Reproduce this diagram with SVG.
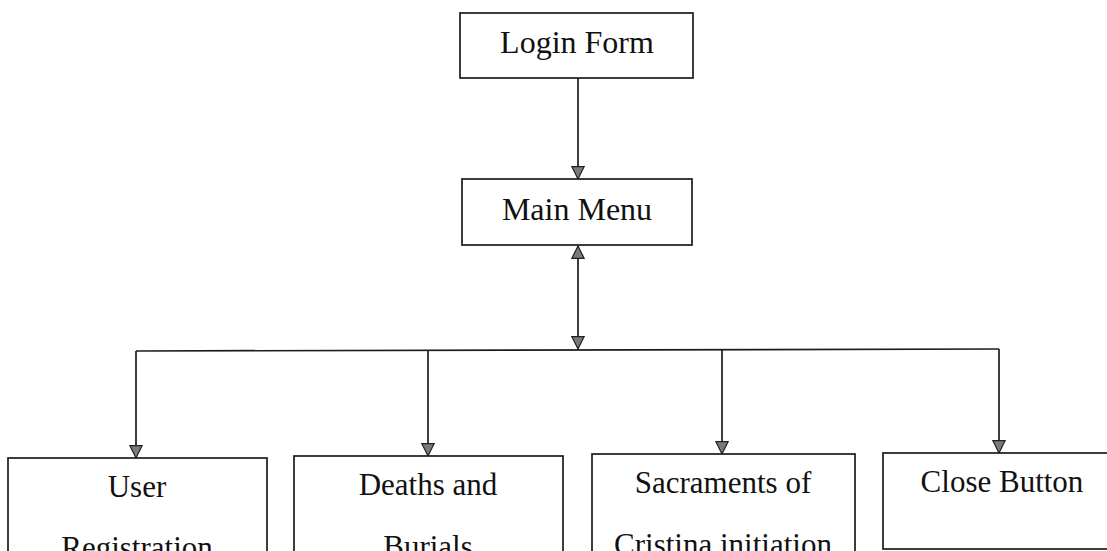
<svg xmlns="http://www.w3.org/2000/svg" width="1107" height="551" viewBox="0 0 1107 551">
  <style>
    .box { fill: #ffffff; stroke: #1c1c1c; stroke-width: 1.7; }
    .lbl { font-family: "Liberation Serif", "Times New Roman", serif; font-size: 31px; fill: #111111; text-anchor: middle; }
    .big { font-size: 32px; }
    .wire { fill: none; stroke: #1c1c1c; stroke-width: 1.7; }
  </style>
  <defs>
    <marker id="arrow" viewBox="0 0 14 14" refX="13.2" refY="7" markerWidth="14" markerHeight="14" markerUnits="userSpaceOnUse" orient="auto-start-reverse">
      <path d="M0.8,0.8 L13.2,7 L0.8,13.2 z" fill="#7a7a7a" stroke="#222222" stroke-width="1.2"/>
    </marker>
  </defs>

  <rect width="1107" height="551" fill="#ffffff"/>

  <!-- connectors -->
  <g id="connectors">
    <line class="wire" x1="578" y1="78" x2="578" y2="179" marker-end="url(#arrow)"/>
    <line class="wire" x1="578" y1="246" x2="578" y2="349" marker-start="url(#arrow)" marker-end="url(#arrow)"/>
    <line class="wire" x1="136" y1="351" x2="999" y2="349"/>
    <line class="wire" x1="136" y1="351" x2="136" y2="458" marker-end="url(#arrow)"/>
    <line class="wire" x1="428" y1="350.5" x2="428" y2="456" marker-end="url(#arrow)"/>
    <line class="wire" x1="722" y1="350" x2="722" y2="454" marker-end="url(#arrow)"/>
    <line class="wire" x1="999" y1="349" x2="999" y2="453" marker-end="url(#arrow)"/>
  </g>

  <!-- top level -->
  <g id="login-form">
    <rect class="box" x="460" y="13" width="233" height="65"/>
    <text class="lbl big" x="577" y="53">Login Form</text>
  </g>

  <g id="main-menu">
    <rect class="box" x="462" y="179" width="230" height="66"/>
    <text class="lbl big" x="577" y="220">Main Menu</text>
  </g>

  <!-- sub-forms -->
  <g id="user-registration">
    <rect class="box" x="8" y="458" width="259" height="110"/>
    <text class="lbl" x="137" y="497">User</text>
    <text class="lbl" x="137" y="558">Registration</text>
  </g>

  <g id="deaths-and-burials">
    <rect class="box" x="294" y="456" width="269" height="110"/>
    <text class="lbl" x="428" y="495">Deaths and</text>
    <text class="lbl" x="428" y="557">Burials</text>
  </g>

  <g id="sacraments">
    <rect class="box" x="592" y="454" width="263" height="110"/>
    <text class="lbl" x="723" y="493">Sacraments of</text>
    <text class="lbl" x="723" y="555">Cristina initiation</text>
  </g>

  <g id="close-button">
    <rect class="box" x="883" y="453" width="240" height="96"/>
    <text class="lbl" x="1002" y="492">Close Button</text>
  </g>
</svg>
